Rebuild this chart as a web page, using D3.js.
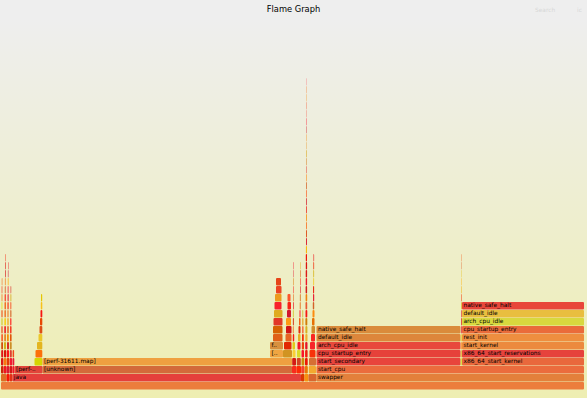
<!DOCTYPE html>
<html>
<head>
<meta charset="utf-8">
<script src="https://cdn.jsdelivr.net/npm/d3@7"></script>
<style>
body { margin: 0; background: #fff; }
text { font-family: "DejaVu Sans", Verdana, sans-serif; }
</style>
</head>
<body>
<svg id="chart" width="587" height="398"></svg>
<script>
var totalSamples = 5830;

// each frame: [function name, stack depth, first sample, sample count]
var rootFrames = [["", 0, 0, 5830]];

// small processes left of java and their stacks
var leftProcFrames = [
    ["", 1, 0, 55], ["", 1, 55, 30], ["", 1, 85, 28],
    ["", 2, 0, 25], ["", 3, 0, 24], ["", 4, 2, 20], ["", 5, 2, 18], ["", 6, 3, 16], ["", 7, 3, 14],
    ["", 8, 4, 12], ["", 9, 5, 10], ["", 10, 5, 9], ["", 11, 6, 8], ["", 12, 7, 6], ["", 13, 8, 5],
    ["", 2, 27, 28], ["", 3, 28, 26], ["", 4, 30, 22], ["", 5, 30, 20], ["", 6, 32, 18], ["", 7, 33, 16],
    ["", 8, 34, 15], ["", 9, 35, 13], ["", 10, 36, 12], ["", 11, 37, 10], ["", 12, 38, 9], ["", 13, 39, 8],
    ["", 14, 40, 7], ["", 15, 41, 6], ["", 16, 42, 4],
    ["", 2, 56, 28], ["", 3, 57, 26], ["", 4, 58, 22], ["", 5, 60, 20], ["", 6, 60, 18], ["", 7, 62, 16],
    ["", 8, 63, 14], ["", 9, 64, 12], ["", 10, 65, 11], ["", 11, 66, 10], ["", 12, 67, 8], ["", 13, 68, 7],
    ["", 14, 69, 5], ["", 15, 70, 4],
    ["", 2, 86, 26], ["", 3, 87, 24], ["", 4, 88, 20], ["", 5, 89, 18], ["", 6, 90, 16], ["", 7, 91, 14],
    ["", 8, 92, 12], ["", 9, 93, 11], ["", 10, 94, 9], ["", 11, 95, 8], ["", 12, 96, 6]
];

var javaFrames = [
    ["java", 1, 113, 2887],
    ["", 2, 114, 20], ["", 3, 115, 18], ["", 4, 116, 15],
    ["[perf-31611.map]", 2, 135, 280],
    ["", 3, 335, 78], ["", 4, 345, 68], ["", 5, 360, 53], ["", 6, 375, 38], ["", 7, 385, 28],
    ["", 8, 390, 23], ["", 9, 395, 18], ["", 10, 398, 15], ["", 11, 400, 12],
    ["[unknown]", 2, 415, 2495],
    ["[perf-31611.map]", 3, 415, 2495],
    ["[perf-31611.map]", 4, 2690, 130],
    ["f..", 5, 2690, 130],
    ["", 6, 2720, 95], ["", 7, 2720, 95], ["", 8, 2725, 90], ["", 9, 2730, 85], ["", 10, 2735, 70],
    ["", 11, 2740, 65], ["", 12, 2750, 55], ["", 13, 2750, 50],
    ["", 4, 2820, 90], ["", 5, 2830, 75], ["", 6, 2845, 60], ["", 7, 2850, 55], ["", 8, 2850, 50],
    ["", 9, 2860, 40], ["", 10, 2865, 35], ["", 11, 2865, 30],
    ["", 2, 2910, 45], ["", 3, 2912, 38], ["", 4, 2915, 30], ["", 5, 2915, 25], ["", 6, 2918, 14],
    ["", 7, 2918, 10], ["", 8, 2919, 9], ["", 9, 2919, 8], ["", 10, 2920, 7], ["", 11, 2920, 6],
    ["", 12, 2921, 5], ["", 13, 2921, 5], ["", 14, 2922, 4], ["", 15, 2922, 4],
    ["", 2, 2955, 45], ["", 3, 2958, 40], ["", 4, 2960, 35], ["", 5, 2965, 30], ["", 6, 2970, 25],
    ["", 7, 2975, 20], ["", 8, 2980, 15], ["", 9, 2985, 10], ["", 10, 2988, 8], ["", 11, 2989, 7],
    ["", 12, 2990, 6], ["", 13, 2990, 5], ["", 14, 2991, 5], ["", 15, 2992, 4]
];

// processes between java and swapper
var midProcFrames = [
    ["", 1, 3000, 35], ["", 2, 3002, 33], ["", 3, 3005, 28], ["", 4, 3005, 25], ["", 5, 3008, 22],
    ["", 6, 3010, 18], ["", 7, 3012, 13], ["", 8, 3013, 11], ["", 9, 3014, 8],
    ["", 1, 3035, 40],
    ["", 1, 3075, 80], ["", 2, 3078, 72], ["", 3, 3080, 70], ["", 4, 3085, 60], ["", 5, 3090, 50],
    ["", 6, 3100, 40], ["", 7, 3105, 35], ["", 8, 3110, 25], ["", 9, 3115, 20], ["", 10, 3118, 14],
    ["", 11, 3120, 12], ["", 12, 3121, 10], ["", 13, 3122, 9], ["", 14, 3123, 8], ["", 15, 3124, 7],
    ["", 16, 3125, 6]
];

// the deep, narrow stack in the middle
var spikeFrames = [
    ["", 2, 3038, 30], ["", 3, 3040, 27], ["", 4, 3041, 25], ["", 5, 3042, 23], ["", 6, 3043, 22],
    ["", 7, 3044, 20], ["", 8, 3044, 19], ["", 9, 3045, 18], ["", 10, 3045, 17], ["", 11, 3046, 16],
    ["", 12, 3046, 15], ["", 13, 3047, 14], ["", 14, 3047, 14], ["", 15, 3048, 13], ["", 16, 3048, 12],
    ["", 17, 3049, 11], ["", 18, 3050, 9], ["", 19, 3050, 9], ["", 20, 3051, 8], ["", 21, 3051, 8],
    ["", 22, 3052, 7], ["", 23, 3052, 7], ["", 24, 3052, 6], ["", 25, 3053, 6], ["", 26, 3053, 6],
    ["", 27, 3053, 5], ["", 28, 3054, 5], ["", 29, 3054, 5], ["", 30, 3054, 4], ["", 31, 3055, 4],
    ["", 32, 3055, 4], ["", 33, 3055, 4], ["", 34, 3056, 3], ["", 35, 3056, 3], ["", 36, 3056, 3],
    ["", 37, 3057, 3], ["", 38, 3057, 2]
];

var swapperFrames = [
    ["swapper", 1, 3155, 2675],
    ["start_cpu", 2, 3155, 2675],
    ["start_secondary", 3, 3155, 1440],
    ["cpu_startup_entry", 4, 3155, 1440],
    ["arch_cpu_idle", 5, 3155, 1440],
    ["default_idle", 6, 3155, 1440],
    ["native_safe_halt", 7, 3155, 1440],
    ["", 3, 4598, 9], ["", 4, 4598, 9], ["", 5, 4599, 8], ["", 6, 4599, 8], ["", 7, 4600, 7],
    ["", 8, 4600, 7], ["", 9, 4600, 6], ["", 10, 4601, 6], ["", 11, 4601, 5], ["", 12, 4601, 5],
    ["", 13, 4602, 5], ["", 14, 4602, 4], ["", 15, 4602, 4], ["", 16, 4603, 3],
    ["x86_64_start_kernel", 3, 4610, 1220],
    ["x86_64_start_reservations", 4, 4610, 1220],
    ["start_kernel", 5, 4610, 1220],
    ["rest_init", 6, 4610, 1220],
    ["cpu_startup_entry", 7, 4610, 1220],
    ["arch_cpu_idle", 8, 4610, 1220],
    ["default_idle", 9, 4610, 1220],
    ["native_safe_halt", 10, 4610, 1220]
];

// colours of the labelled frames, keyed by name@depth
var namedColors = {
    "@0": "#ec7d3c", "java@1": "#e53f3b", "[perf-31611.map]@2": "#e2453a", "[unknown]@2": "#d36a3a",
    "[perf-31611.map]@3": "#efa040", "[perf-31611.map]@4": "#f0a542", "f..@5": "#d8903e",
    "swapper@1": "#e3803b", "start_cpu@2": "#eb6c3d", "start_secondary@3": "#e8443c",
    "cpu_startup_entry@4": "#e6413a", "arch_cpu_idle@5": "#e8483c", "default_idle@6": "#dd863b",
    "native_safe_halt@7": "#da8b3b", "x86_64_start_kernel@3": "#e9683c",
    "x86_64_start_reservations@4": "#e6423c", "start_kernel@5": "#ec8a3e", "rest_init@6": "#ee8e3f",
    "cpu_startup_entry@7": "#ea6b3a", "arch_cpu_idle@8": "#d8d83e", "default_idle@9": "#e9be3f",
    "native_safe_halt@10": "#e8463a"
};

var frames = [].concat(rootFrames, leftProcFrames, javaFrames, midProcFrames, spikeFrames, swapperFrames)
    .map(function (f) { return { name: f[0], depth: f[1], start: f[2], samples: f[3] }; });

var fontSize = 5.87;
var frameHeight = 8;

var svg = d3.select("#chart");

// background gradient like flamegraph.pl
var grad = svg.append("defs").append("linearGradient")
    .attr("id", "background").attr("x1", 0).attr("y1", 0).attr("x2", 0).attr("y2", 1);
grad.append("stop").attr("offset", "5%").attr("stop-color", "#eeeeee");
grad.append("stop").attr("offset", "100%").attr("stop-color", "#eeeeb2");
svg.append("rect").attr("width", 587).attr("height", 398).attr("fill", "url(#background)");

svg.append("text")
    .attr("x", 293.5).attr("y", 11.5)
    .attr("text-anchor", "middle")
    .style("font-size", "8.3px")
    .attr("fill", "#000")
    .text("Flame Graph");

svg.append("text").attr("x", 535).attr("y", 11.5).style("font-size", fontSize + "px")
    .attr("fill", "#000").attr("opacity", 0.1).text("Search");
svg.append("text").attr("x", 577).attr("y", 11.5).style("font-size", fontSize + "px")
    .attr("fill", "#000").attr("opacity", 0.1).text("ic");

var xScale = d3.scaleLinear().domain([0, totalSamples]).range([1, 584]);
var yScale = d3.scaleLinear().domain([0, 1]).range([382, 382 - frameHeight]);

// deterministic "hot" palette for the unlabelled frames
function hashUnit(str, seed) {
    var h = seed >>> 0;
    for (var i = 0; i < str.length; i++) {
        h = Math.imul(h ^ str.charCodeAt(i), 2654435761);
        h ^= h >>> 13;
    }
    h = Math.imul(h ^ (h >>> 16), 2246822507);
    h ^= h >>> 15;
    return (h >>> 0) / 4294967296;
}

function frameColor(d) {
    var key = d.name + "@" + d.depth;
    if (namedColors[key] && (d.name !== "" || d.depth === 0)) return namedColors[key];
    var id = d.depth + ":" + d.start;
    var v1 = hashUnit(id, 7), v2 = hashUnit(id, 131), v3 = hashUnit(id, 977);
    // lean towards reds/oranges like the reference
    return d3.rgb(205 + Math.round(50 * v3), Math.round(200 * v1 * v1 + 20), Math.round(55 * v2)).toString();
}

function labelFor(d) {
    var w = xScale(d.start + d.samples) - xScale(d.start);
    var chars = Math.floor(w / (fontSize * 0.59));
    if (chars < 3 || d.name === "") return "";
    var text = d.name.substr(0, chars);
    if (chars < d.name.length) text = text.slice(0, -2) + "..";
    return text;
}

var g = svg.selectAll("g.frame").data(frames).enter().append("g").attr("class", "frame");

g.append("title").text(function (d) {
    return (d.name || "?") + " (" + d.samples + " samples, " + (100 * d.samples / totalSamples).toFixed(2) + "%)";
});

g.append("rect")
    .attr("x", function (d) { return xScale(d.start); })
    .attr("y", function (d) { return yScale(d.depth); })
    .attr("width", function (d) { return xScale(d.start + d.samples) - xScale(d.start); })
    .attr("height", frameHeight - 0.5)
    .attr("rx", 1).attr("ry", 1)
    .attr("fill", frameColor);

g.append("text")
    .attr("x", function (d) { return xScale(d.start) + 1.5; })
    .attr("y", function (d) { return yScale(d.depth) + 5.4; })
    .style("font-size", fontSize + "px")
    .attr("fill", "#000")
    .text(labelFor);
</script>
</body>
</html>
